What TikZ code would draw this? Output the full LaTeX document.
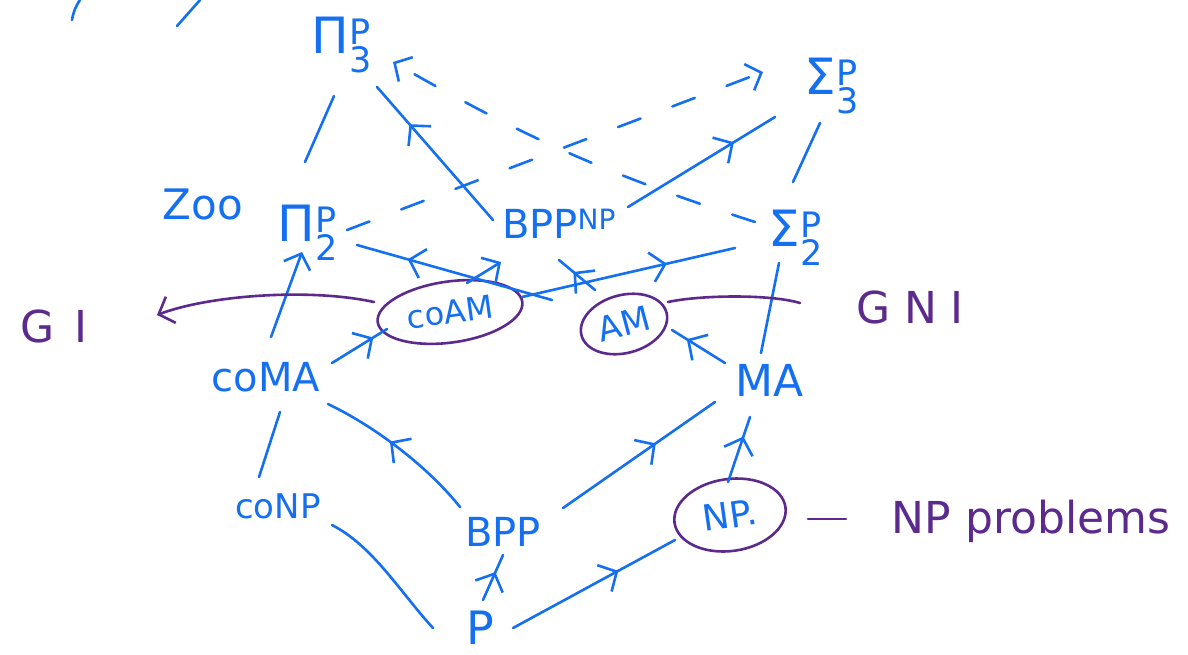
\documentclass[tikz,border=0pt]{standalone}
\usepackage{fontspec}
\setmainfont{DejaVu Sans}
\newfontfamily\gifont[LetterSpace=45]{DejaVu Sans}
\newfontfamily\gnifont[LetterSpace=30]{DejaVu Sans}
\usetikzlibrary{arrows.meta,decorations.markings,shapes.geometric,calc}
\definecolor{hblue}{RGB}{20,112,240}
\definecolor{hpurple}{RGB}{92,42,140}
\begin{document}
\begin{tikzpicture}[x=1pt,y=-1pt,
  conn/.style={color=hblue,line width=2.6pt,line cap=round,line join=round},
  pconn/.style={color=hpurple,line width=2.6pt,line cap=round,line join=round},
  midarr/.style={postaction={decorate},decoration={markings,mark=at position #1 with {\arrow{Straight Barb[length=14pt,width=30pt]}}}},
  endarr/.style={-{Straight Barb[length=13pt,width=28pt]}},
  dashline/.style={dash pattern=on 24pt off 34pt},
  lbl/.style={text=hblue,inner sep=0pt,font=\fontsize{40}{44}\selectfont},
  glbl/.style={text=hblue,inner sep=0pt,font=\fontsize{50}{54}\selectfont},
  plbl/.style={text=hpurple,inner sep=0pt,font=\fontsize{44}{48}\selectfont},
  ell/.style={ellipse,draw=hpurple,line width=2.6pt,inner sep=0pt,text=hblue}
]
\fill[white] (0,0) rectangle (1188,654);
\useasboundingbox (0,0) rectangle (1188,654);

% nodes
\node[glbl] (pi3) at (342,45) {Π$_{\mathrm{3}}^{\mathrm{P}}$};
\node[glbl] (sig3) at (832,86) {Σ$_{\mathrm{3}}^{\mathrm{P}}$};
\node[glbl] (pi2) at (308,233) {Π$_{\mathrm{2}}^{\mathrm{P}}$};
\node[glbl] (sig2) at (796,238) {Σ$_{\mathrm{2}}^{\mathrm{P}}$};
\node[lbl] (bppnp) at (559,224) {BPP$^{\mathrm{NP}}$};
\node[ell,minimum width=146pt,minimum height=61pt,rotate=8,font=\fontsize{32}{36}\selectfont] (coam) at (450,312) {coAM};
\node[ell,minimum width=88pt,minimum height=58pt,rotate=15,font=\fontsize{34}{38}\selectfont] (am) at (624,324) {AM};
\node[ell,minimum width=112pt,minimum height=72pt,rotate=8,font=\fontsize{36}{40}\selectfont] (np) at (730,515) {NP.};
\node[plbl,font=\gifont\fontsize{44}{48}\selectfont] (gi) at (54,326) {GI};
\node[plbl,font=\gnifont\fontsize{44}{48}\selectfont] (gni) at (910,307) {GNI};
\node[lbl] (coma) at (266,377) {coMA};
\node[lbl,font=\fontsize{44}{48}\selectfont] (ma) at (770,380) {MA};
\node[lbl,font=\fontsize{42}{46}\selectfont] (zoo) at (203,204) {Zoo};
\node[lbl,font=\fontsize{34}{38}\selectfont] (conp) at (278,506) {coNP};
\node[lbl] (bpp) at (503,532) {BPP};
\node[lbl,font=\fontsize{46}{50}\selectfont] (p) at (480,628) {P};
\node[plbl] (npprob) at (1031,521) {NP problems};

% stray strokes at top left
\draw[conn] (72,20) to[bend left=12] (80,0);
\draw[conn] (177,26) -- (200,0);

% blue connectors
\draw[conn] ($(pi3)+(-8,51)$) -- ($(pi2)+(-3,-71)$);
\draw[conn] ($(sig3)+(-12,37)$) -- ($(sig2)+(-3,-56)$);
\draw[conn,midarr=0.72] ($(bppnp)+(-66,-4)$) -- ($(pi3)+(35,42)$);
\draw[conn,midarr=0.72] ($(bppnp)+(69,-17)$) -- ($(sig3)+(-57,31)$);
\draw[conn,dashline,endarr] ($(pi2)+(39,-3)$) -- ($(sig3)+(-69,-14)$);
\draw[conn,dashline,endarr] ($(sig2)+(-41,-16)$) to[bend left=6] ($(pi3)+(51,17)$);
\draw[conn,endarr] ($(coma)+(5,-40)$) -- ($(pi2)+(-6,19)$);
\draw[conn] ($(conp)+(-19,-29)$) -- ($(coma)+(14,35)$);
\draw[conn] ($(conp)+(54,19)$) .. controls ($(conp)+(95,40)$) and ($(p)+(-80,-36)$) .. ($(p)+(-47,0)$);
\draw[conn,midarr=0.62] ($(p)+(3,-28)$) -- ($(bpp)+(0,23)$);
\draw[conn,midarr=0.65] ($(p)+(33,0)$) -- ($(np)+(-55,25)$);
\draw[conn,midarr=0.57] ($(bpp)+(-43,-25)$) .. controls ($(bpp)+(-75,-65)$) and ($(coma)+(110,50)$) .. ($(coma)+(62,27)$);
\draw[conn,midarr=0.61] ($(bpp)+(60,-24)$) -- ($(ma)+(-55,22)$);
\draw[conn,midarr=0.7] ($(np)+(-2,-33)$) -- ($(ma)+(-20,37)$);
\draw[conn,midarr=0.72] ($(ma)+(-45,-17)$) -- ($(am)+(48,6)$);
\draw[conn] ($(ma)+(-9,-27)$) -- ($(sig2)+(-17,25)$);
\draw[conn,midarr=0.75] ($(coma)+(66,-14)$) -- ($(coam)+(-63,17)$);
\draw[conn,midarr=0.74] ($(am)+(-72,-24)$) -- ($(pi2)+(49,12)$);
\draw[conn,midarr=0.68] ($(coam)+(72,-15)$) -- ($(sig2)+(-61,10)$);
\draw[conn,endarr] ($(coam)+(17,-29)$) -- ($(bppnp)+(-58,38)$);
\draw[conn,midarr=0.6] ($(am)+(-29,-34)$) -- ($(bppnp)+(0,36)$);

% purple connectors
\draw[pconn,endarr] ($(coam)+(-76,-10)$) .. controls ($(coam)+(-140,-24)$) and ($(gi)+(156,-31)$) .. ($(gi)+(103,-11)$);
\draw[pconn] ($(am)+(44,-22)$) .. controls ($(am)+(76,-29)$) and ($(gni)+(-140,-13)$) .. ($(gni)+(-110,-4)$);
\draw[pconn] ($(np)+(78,4)$) -- ($(npprob)+(-185,-2)$);
\end{tikzpicture}
\end{document}
